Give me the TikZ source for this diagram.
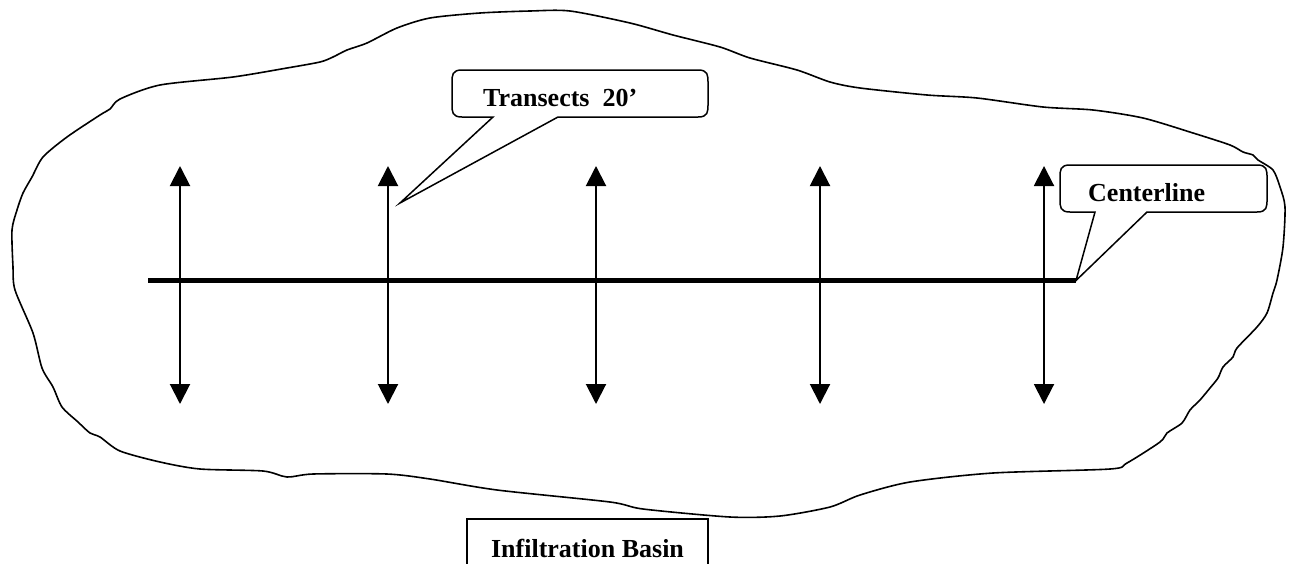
\documentclass[tikz,border=0pt]{standalone}
\usepackage{fontspec}
\setmainfont{Liberation Serif}
\usetikzlibrary{positioning}
\usetikzlibrary{arrows.meta}

\begin{document}
\begin{tikzpicture}
    [
    x=1pt, y=-1pt,
    basin/.style={line width=1.6pt, line join=round},
    transect/.style={line width=2pt, {Triangle[length=20pt,width=20pt]}-{Triangle[length=20pt,width=20pt]}},
    centreline/.style={line width=5pt, line cap=butt},
    callout/.style={line width=1.5pt, line join=miter},
    lbl/.style={inner sep=0pt, font=\fontsize{26}{30}\selectfont\bfseries},
    lblbox/.style={draw, line width=1.5pt, inner sep=0pt, minimum width=241pt, minimum height=58pt, font=\fontsize{26}{30}\selectfont\bfseries},
    ]
    \useasboundingbox (0,0) rectangle (1292,563);
    \clip (0,0) rectangle (1292,563);
    % % 流域轮廓
    \draw[basin] plot[smooth cycle, tension=0.45] coordinates {
        (160,85) (233,77) (287,68) (320,62) (333,57) (347,50) (367,43) (397,28)
        (430,18) (480,13) (530,11) (570,11) (630,23) (673,35) (720,47) (750,58)
        (797,70) (830,82) (860,88) (927,95) (977,98) (1043,107) (1093,110)
        (1143,118) (1193,133) (1230,145) (1243,152) (1253,155) (1258,160)
        (1273,170) (1280,187) (1285,207) (1283,247) (1277,280) (1273,293)
        (1267,313) (1257,327) (1237,348) (1233,357) (1223,367) (1218,378)
        (1210,388) (1200,400) (1190,410) (1182,423) (1167,433) (1160,442)
        (1127,463) (1110,469) (993,473) (910,482) (860,495) (830,507) (780,516)
        (730,517) (643,509) (610,502) (497,490) (430,479) (387,474) (313,474)
        (287,477) (263,471) (200,469) (160,462) (120,451) (100,437) (90,433)
        (78,422) (62,407) (53,387) (42,368) (33,333) (15,290) (13,267) (12,230)
        (17,210) (23,193) (32,177) (43,157) (67,137) (100,115) (110,109) (120,99)
    };
    %
    \coordinate (cl west) at (148,280.5);
    \coordinate (cl east) at (1076,280.5);
    \draw[centreline] (cl west) -- (cl east);
    \foreach \x [count=\i] in {180,388,596,820,1044} {
        \coordinate (t\i top) at (\x,166);
        \coordinate (t\i bot) at (\x,404);
        \draw[transect] (t\i top) -- (t\i bot);
    }
    %
    \coordinate (tr tip) at (400,203);
    \draw[callout] (493,117) -- (tr tip) -- (558,117) -- (698,117)
        .. controls (708,117) and (708,112) .. (708,104) -- (708,83)
        .. controls (708,75) and (708,70) .. (698,70) -- (462,70)
        .. controls (452,70) and (452,75) .. (452,83) -- (452,104)
        .. controls (452,112) and (452,117) .. (462,117) -- cycle;
    \node[lbl, anchor=base west] (transects) at (483,106) {Transects\ \ 20’};
    %
    \draw[callout] (1095,212) -- (cl east) -- (1147,212) -- (1257,212)
        .. controls (1267,212) and (1267,207) .. (1267,199) -- (1267,178)
        .. controls (1267,170) and (1267,165) .. (1257,165) -- (1070,165)
        .. controls (1060,165) and (1060,170) .. (1060,178) -- (1060,199)
        .. controls (1060,207) and (1060,212) .. (1070,212) -- cycle;
    \node[lbl, anchor=base west] (centerline) at (1088,201) {Centerline};
    %
    \node[lblbox] (basin) at (587.5,548) {Infiltration Basin};
\end{tikzpicture}
\end{document}
